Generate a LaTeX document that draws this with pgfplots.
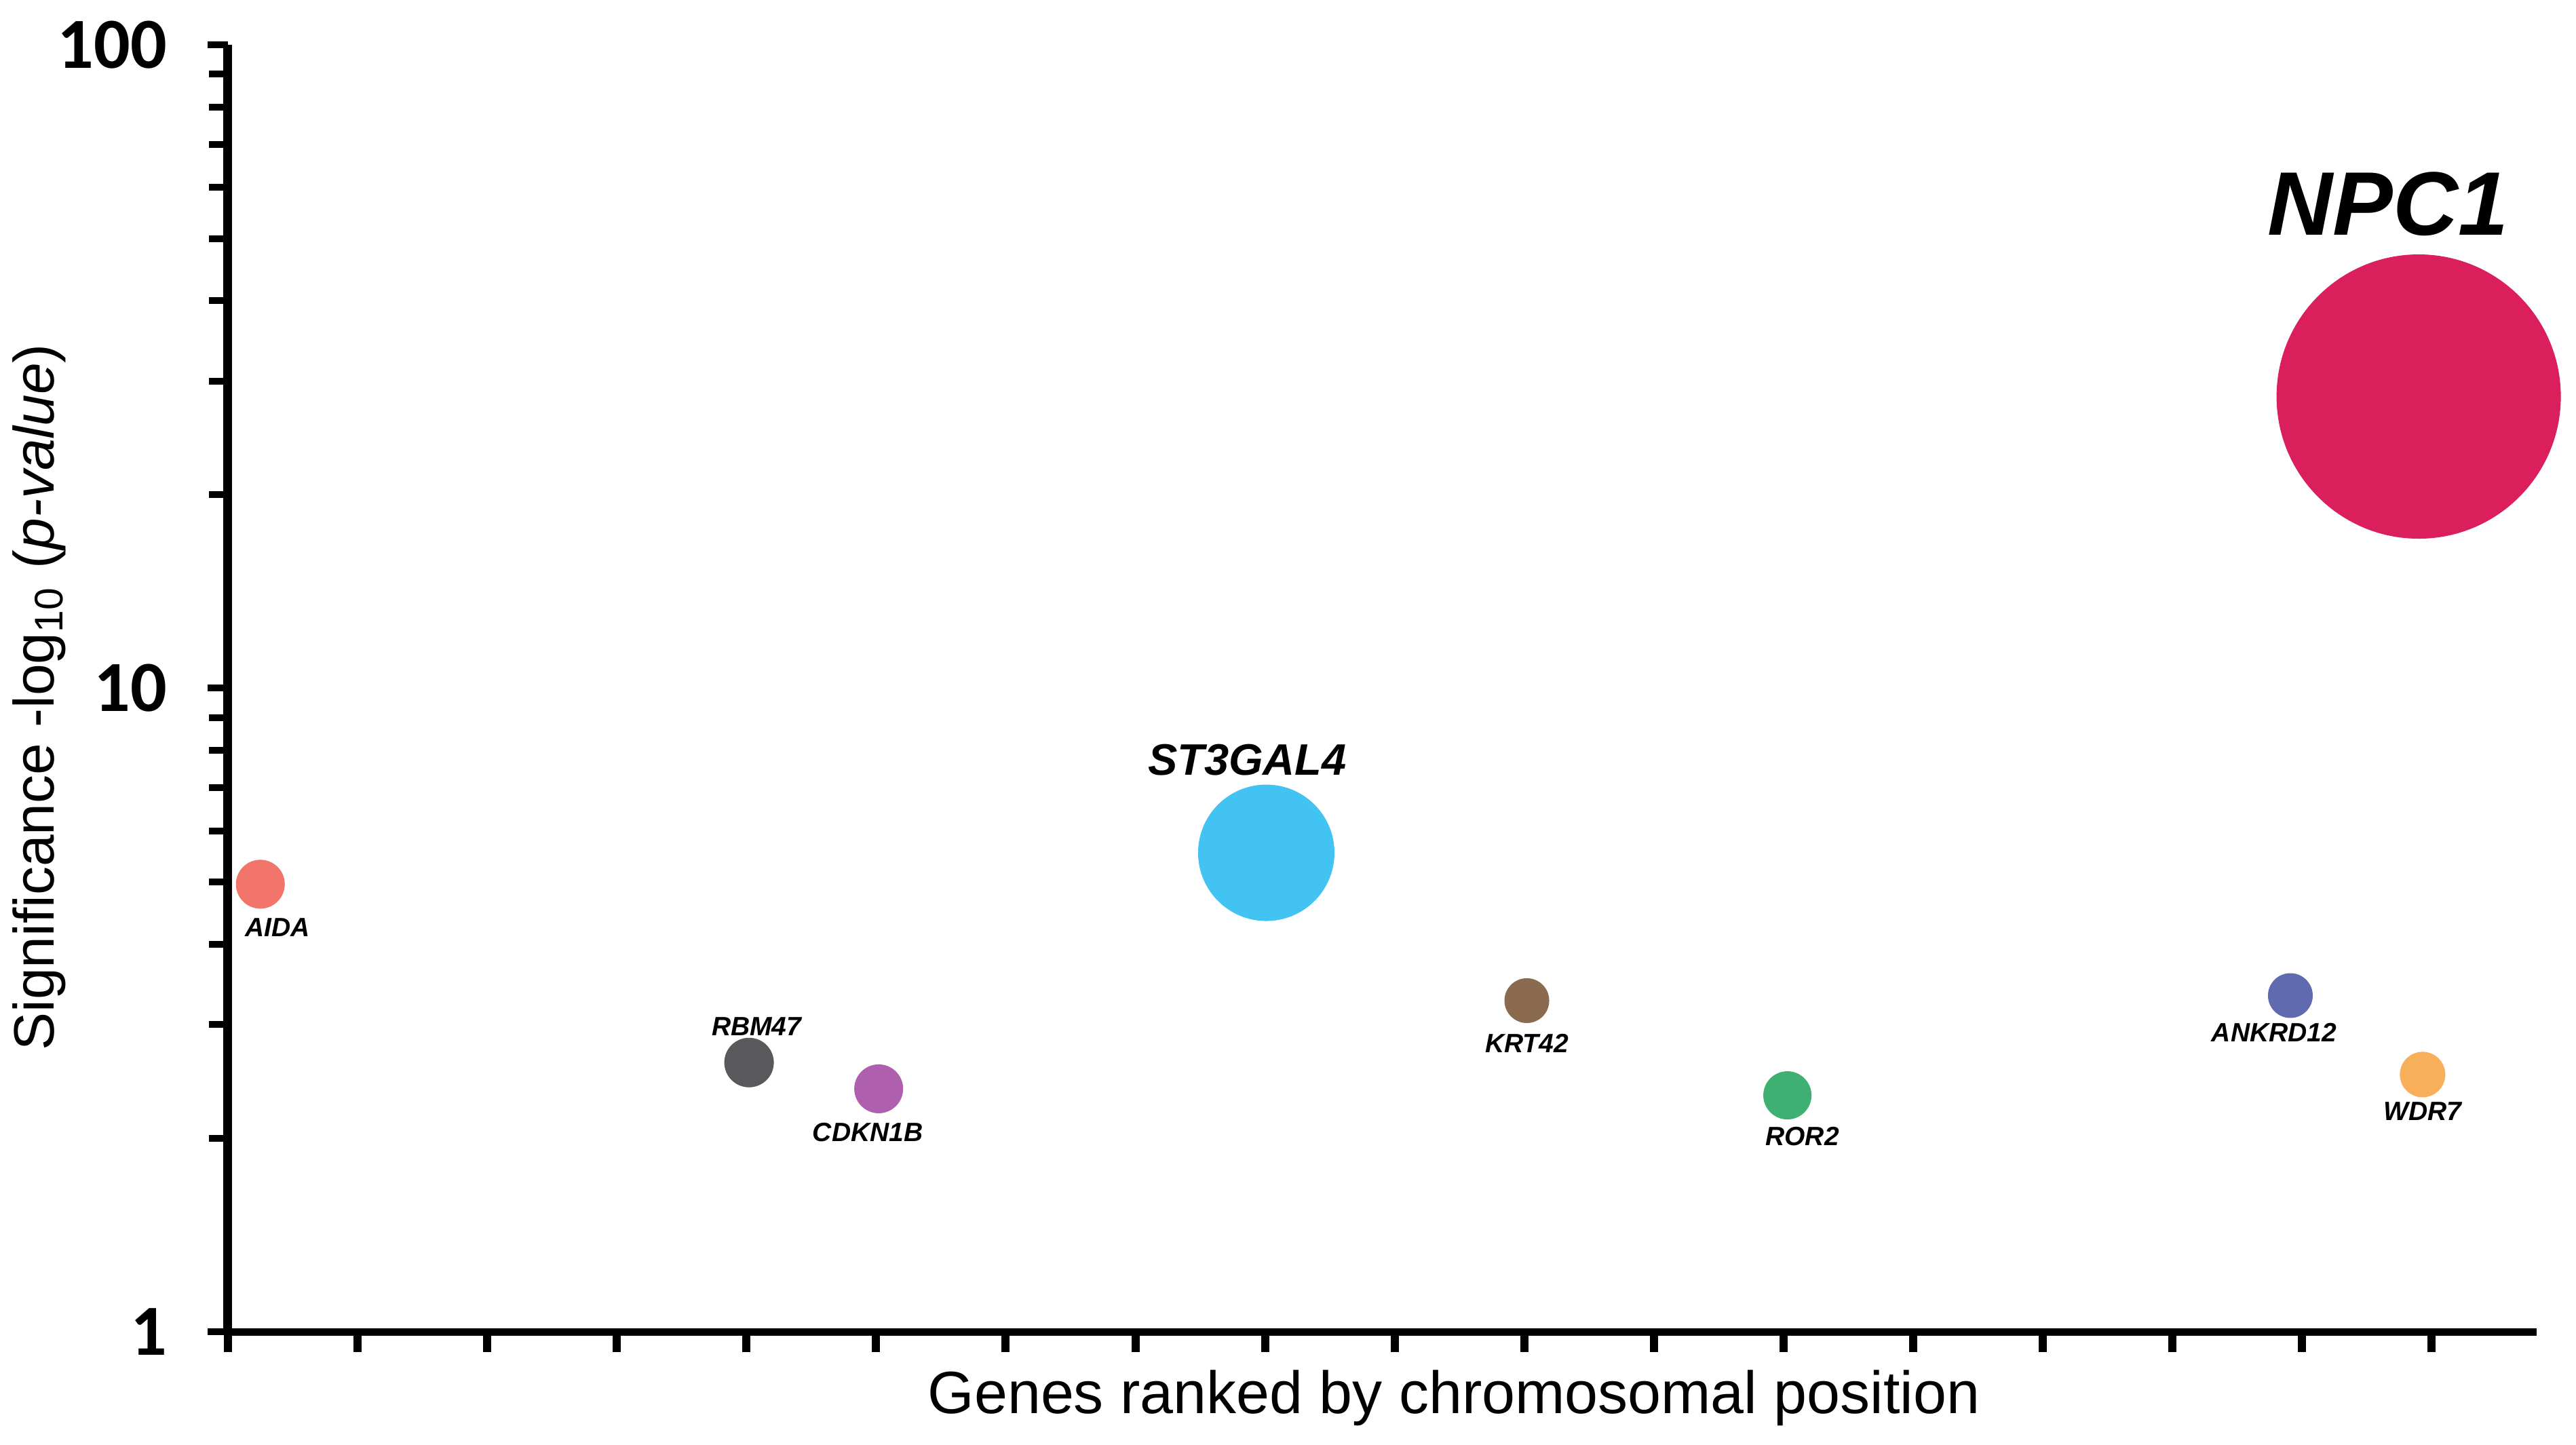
\documentclass[border=0pt]{standalone}
\usepackage{fontspec}
\setmainfont{Liberation Sans}
\newfontfamily\carlito{Carlito}
\usepackage{pgfplots}
\pgfplotsset{compat=1.18}
\definecolor{cAIDA}{HTML}{F1756A}
\definecolor{cRBM}{HTML}{59595B}
\definecolor{cCDK}{HTML}{AE5FAD}
\definecolor{cST}{HTML}{42C3F2}
\definecolor{cKRT}{HTML}{8A6B4F}
\definecolor{cROR}{HTML}{3EB072}
\definecolor{cANK}{HTML}{5F6BAE}
\definecolor{cWDR}{HTML}{F7AF5A}
\definecolor{cNPC}{HTML}{DA1F5C}
\newcommand{\genefont}{\bfseries\itshape\fontsize{3.9bp}{4.5bp}\selectfont}
\begin{document}
\begin{tikzpicture}
\path[use as bounding box] (-33.6bp,-16.7bp) rectangle (346.1bp,196.3bp);
\begin{axis}[
  scale only axis,
  width=340.3bp, height=189.7bp,
  xmin=0, xmax=17.81,
  ymode=log, ymin=1, ymax=100,
  axis x line*=bottom, axis y line*=left,
  x axis line style={black, line width=1.1bp},
  y axis line style={black, line width=1.3bp},
  tick align=outside,
  major tick length=3bp, minor tick length=2.8bp,
  xtick={0,1,...,17}, xticklabel=\empty,
  xtick style={black, line width=1.2bp},
  ytick={1,10,100}, yticklabels={1,10,100},
  minor ytick={2,3,4,5,6,7,8,9,20,30,40,50,60,70,80,90},
  ytick style={black, line width=1bp},
  minor tick style={black, line width=1bp},
  yticklabel style={font=\carlito\bfseries\fontsize{10.6bp}{12bp}\selectfont, anchor=east, inner sep=0pt, xshift=-5.8bp},
  xlabel={Genes ranked by chromosomal position},
  xlabel style={font=\fontsize{8.8bp}{10bp}\selectfont, at={(axis description cs:0.531,-0.0633)}, anchor=base, inner sep=0pt},
  ylabel={Significance -log\textsubscript{10} (\textit{p-value})},
  ylabel style={font=\fontsize{8.4bp}{10bp}\selectfont, at={(axis description cs:-0.0755,0.493)}, anchor=base, inner sep=0pt},
  clip=false,
]
\addplot[only marks, mark=*, color=cAIDA, line width=0.1bp, mark size=3.55bp] coordinates {(0.25,4.96)};
\addplot[only marks, mark=*, color=cRBM, line width=0.1bp, mark size=3.6bp] coordinates {(4.02,2.62)};
\addplot[only marks, mark=*, color=cCDK, line width=0.1bp, mark size=3.55bp] coordinates {(5.02,2.385)};
\addplot[only marks, mark=*, color=cST, line width=0.1bp, mark size=10bp] coordinates {(8.01,5.55)};
\addplot[only marks, mark=*, color=cKRT, line width=0.1bp, mark size=3.25bp] coordinates {(10.02,3.27)};
\addplot[only marks, mark=*, color=cROR, line width=0.1bp, mark size=3.5bp] coordinates {(12.03,2.33)};
\addplot[only marks, mark=*, color=cANK, line width=0.1bp, mark size=3.25bp] coordinates {(15.91,3.33)};
\addplot[only marks, mark=*, color=cWDR, line width=0.1bp, mark size=3.3bp] coordinates {(16.93,2.51)};
\addplot[only marks, mark=*, color=cNPC, line width=0.1bp, mark size=20.9bp] coordinates {(16.90,28.4)};
\node[inner sep=0pt, font=\genefont, xshift=2.5bp, yshift=-6.4bp] at (axis cs:0.25,4.96) {AIDA};
\node[inner sep=0pt, font=\genefont, xshift=1.1bp, yshift=5.3bp] at (axis cs:4.02,2.62) {RBM47};
\node[inner sep=0pt, font=\genefont, xshift=-1.6bp, yshift=-6.4bp] at (axis cs:5.02,2.385) {CDKN1B};
\node[inner sep=0pt, font=\bfseries\itshape\fontsize{6.5bp}{7.5bp}\selectfont, xshift=-2.8bp, yshift=13.7bp] at (axis cs:8.01,5.55) {ST3GAL4};
\node[inner sep=0pt, font=\genefont, xshift=0bp, yshift=-6.3bp] at (axis cs:10.02,3.27) {KRT42};
\node[inner sep=0pt, font=\genefont, xshift=2.2bp, yshift=-6.0bp] at (axis cs:12.03,2.33) {ROR2};
\node[inner sep=0pt, font=\genefont, xshift=-2.4bp, yshift=-5.4bp] at (axis cs:15.91,3.33) {ANKRD12};
\node[inner sep=0pt, font=\genefont, xshift=0bp, yshift=-5.4bp] at (axis cs:16.93,2.51) {WDR7};
\node[inner sep=0pt, font=\bfseries\itshape\fontsize{13.3bp}{15bp}\selectfont, xshift=-4.5bp, yshift=28.4bp] at (axis cs:16.90,28.4) {NPC1};
\end{axis}
\end{tikzpicture}
\end{document}
